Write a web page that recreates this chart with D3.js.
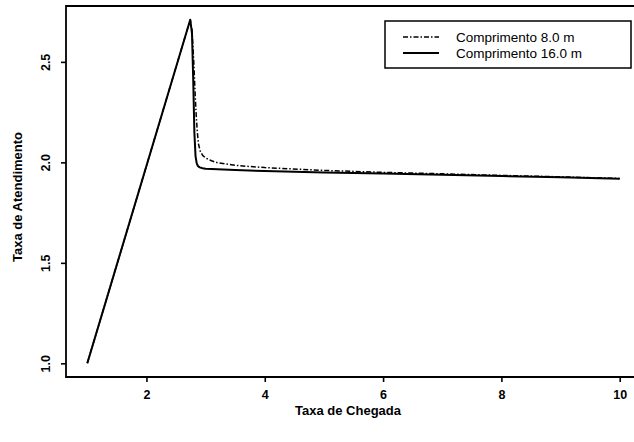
<!DOCTYPE html>
<html>
<head>
<meta charset="utf-8">
<style>
  body { margin: 0; background: #fff; }
  svg text { font-family: "Liberation Sans", Arial, sans-serif; fill: #000; }
  .axis path, .axis line { stroke: #000; stroke-width: 1.6; }
  .axis text { font-size: 12.5px; font-weight: bold; }
</style>
<script src="https://cdn.jsdelivr.net/npm/d3@7"></script>
</head>
<body>
<div id="chart"></div>
<script>
// chart data
var xTicks = [2, 4, 6, 8, 10];
var yTicks = [1.0, 1.5, 2.0, 2.5];
var legendLabels = ["Comprimento 8.0 m", "Comprimento 16.0 m"];

// Comprimento 8.0 m (dash-dot)
var x8 = [1.0, 2.74, 2.77, 2.8, 2.82, 2.84, 2.86, 2.88, 2.91, 2.95, 3.0, 3.1, 3.2, 3.5, 4.0, 5.0, 6.0, 7.0, 8.0, 9.0, 10.0];
var y8 = [1.0, 2.71, 2.66, 2.5, 2.36, 2.24, 2.15, 2.09, 2.055, 2.035, 2.022, 2.008, 1.998, 1.985, 1.974, 1.96, 1.95, 1.943, 1.935, 1.928, 1.92];

// Comprimento 16.0 m (solid)
var x16 = [1.0, 2.74, 2.77, 2.79, 2.81, 2.83, 2.85, 2.87, 2.9, 2.95, 3.0, 3.5, 4.0, 5.0, 6.0, 7.0, 8.0, 9.0, 10.0];
var y16 = [1.0, 2.71, 2.64, 2.42, 2.15, 2.03, 1.995, 1.982, 1.975, 1.971, 1.968, 1.962, 1.957, 1.95, 1.944, 1.938, 1.932, 1.926, 1.918];

var W = 634, H = 442;
var margin = {top: 6, right: -7, bottom: 65, left: 66};
var width = W - margin.left - margin.right,
    height = H - margin.top - margin.bottom;

var svg = d3.select("#chart").append("svg")
    .attr("width", W)
    .attr("height", H);

var g = svg.append("g")
    .attr("transform", `translate(${margin.left},${margin.top})`);

var x = d3.scaleLinear().domain([0.64, 10.36]).range([0, width]);
var y = d3.scaleLinear().domain([0.932, 2.778]).range([height, 0]);

// frame (left, top, bottom)
g.append("path")
    .attr("d", `M${width},0 H0 V${height} H${width}`)
    .style("fill", "none").style("stroke", "#000").style("stroke-width", 1.8);

// axes
var xAxis = g.append("g").attr("class", "axis")
    .attr("transform", `translate(0,${height})`)
    .call(d3.axisBottom(x).tickValues(xTicks).tickSize(5).tickPadding(8).tickFormat(d3.format("d")));
xAxis.select(".domain").remove();

var yAxis = g.append("g").attr("class", "axis")
    .call(d3.axisLeft(y).tickValues(yTicks).tickSize(5).tickFormat(d3.format(".1f")));
yAxis.select(".domain").remove();
yAxis.selectAll("text")
    .attr("transform", "rotate(-90)")
    .attr("x", 0).attr("y", -16)
    .attr("dy", "0")
    .style("text-anchor", "middle");

// axis titles
svg.append("text")
    .attr("x", 348).attr("y", 415)
    .attr("text-anchor", "middle")
    .style("font-size", "13px").style("font-weight", "bold")
    .text("Taxa de Chegada");

svg.append("text")
    .attr("transform", "translate(22,197) rotate(-90)")
    .attr("text-anchor", "middle")
    .style("font-size", "13px").style("font-weight", "bold")
    .text("Taxa de Atendimento");

// lines
var line = d3.line()
    .x(d => x(d[0]))
    .y(d => y(d[1]));

g.append("path")
    .datum(x8.map((v, i) => [v, y8[i]]))
    .attr("d", line)
    .style("fill", "none").style("stroke", "#000")
    .style("stroke-width", 1.5)
    .style("stroke-linejoin", "round")
    .style("stroke-dasharray", "5,2,1.5,2");

g.append("path")
    .datum(x16.map((v, i) => [v, y16[i]]))
    .attr("d", line)
    .style("fill", "none").style("stroke", "#000")
    .style("stroke-linejoin", "round")
    .style("stroke-width", 2);

// legend
var lg = svg.append("g").attr("transform", "translate(385,21)");
lg.append("rect")
    .attr("width", 246).attr("height", 47)
    .style("fill", "#fff").style("stroke", "#000").style("stroke-width", 1.5);

var dashes = ["5,2,1.5,2", null];
var widths = [1.5, 2];
legendLabels.forEach(function(lbl, i) {
    var yy = 16 + i * 16;
    lg.append("line")
        .attr("x1", 18).attr("x2", 54)
        .attr("y1", yy).attr("y2", yy)
        .style("stroke", "#000").style("stroke-width", widths[i])
        .style("stroke-dasharray", dashes[i]);
    lg.append("text")
        .attr("x", 71).attr("y", yy + 5)
        .style("font-size", "13.5px")
        .text(lbl);
});
</script>
</body>
</html>
